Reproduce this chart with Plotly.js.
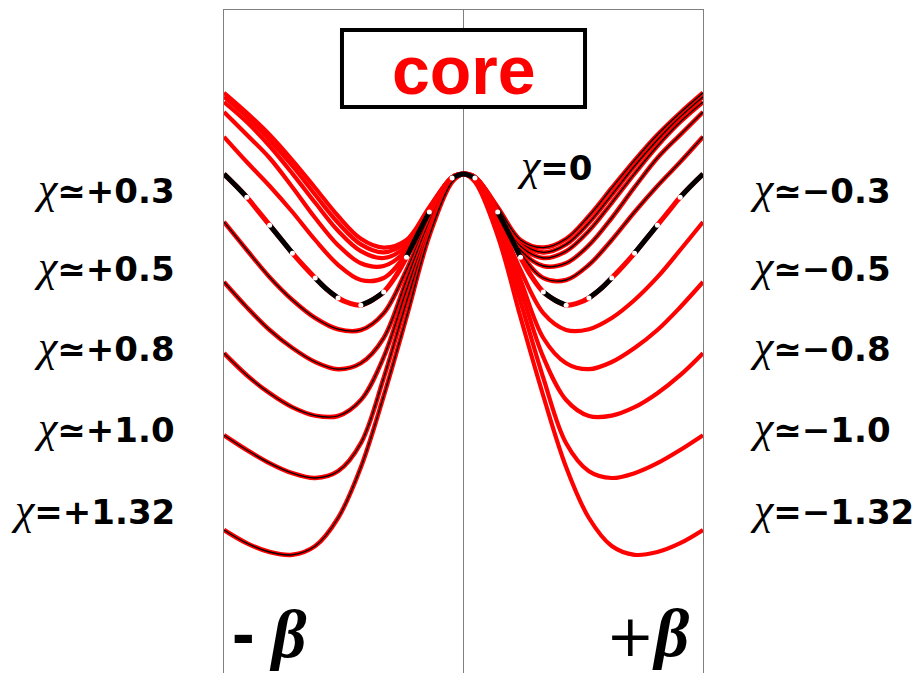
<!DOCTYPE html>
<html>
<head>
<meta charset="utf-8">
<script src="https://cdn.plot.ly/plotly-3.0.1.min.js"></script>
<style>
  html, body { margin: 0; padding: 0; background: #ffffff; }
  #chart { width: 919px; height: 673px; }
</style>
</head>
<body>
<div id="chart"></div>
<script>
// Quadrupole deformation grid used for the χ ≠ 0 potential curves
const beta = [-1.05, -0.95, -0.85, -0.75, -0.65, -0.55, -0.45, -0.35, -0.25, -0.15, -0.05, 0,
              0.05, 0.15, 0.25, 0.35, 0.45, 0.55, 0.65, 0.75, 0.85, 0.95, 1.05];

// Finer grid for the symmetric χ = 0 curve (its dashes span 0.1 in β)
const betaFine = [-1.05, -1.00, -0.95, -0.90, -0.85, -0.80, -0.75, -0.70, -0.65, -0.60, -0.55,
                  -0.50, -0.45, -0.40, -0.35, -0.30, -0.25, -0.20, -0.15, -0.10, -0.05, 0,
                  0.05, 0.10, 0.15, 0.20, 0.25, 0.30, 0.35, 0.40, 0.45, 0.50, 0.55, 0.60,
                  0.65, 0.70, 0.75, 0.80, 0.85, 0.90, 0.95, 1.00, 1.05];

// Potential energy (arbitrary units, barrier top = 0)
const eChi0 = [0, -0.28, -0.58, -0.93, -1.28, -1.63, -1.98, -2.30, -2.60, -2.88, -3.10,
               -3.23, -3.28, -3.15, -2.95, -2.58, -2.08, -1.50, -0.95, -0.45, -0.10, 0,
               -0.10, -0.45, -0.95, -1.50, -2.08, -2.58, -2.95, -3.15, -3.28, -3.23,
               -3.10, -2.88, -2.60, -2.30, -1.98, -1.63, -1.28, -0.93, -0.58, -0.28, 0];

const ePlus03  = [-1.20, -1.90, -2.58, -3.15, -3.60, -3.88, -3.90, -3.48, -2.40, -1.10, -0.13, 0,
                  -0.10, -0.93, -1.98, -2.60, -2.65, -2.27, -1.65, -0.95, -0.30, 0.30, 0.93];
const ePlus05  = [-2.70, -3.33, -3.90, -4.35, -4.70, -4.88, -4.73, -4.10, -2.65, -1.20, -0.13, 0,
                  -0.08, -0.90, -1.90, -2.30, -2.23, -1.78, -1.10, -0.33, 0.40, 0.98, 1.55];
const ePlus08  = [-4.48, -5.03, -5.48, -5.83, -6.04, -6.05, -5.65, -4.58, -2.90, -1.35, -0.15, 0,
                  -0.08, -0.88, -1.80, -2.10, -1.93, -1.42, -0.72, 0.01, 0.70, 1.30, 1.80];
const ePlus10  = [-6.53, -6.90, -7.23, -7.48, -7.60, -7.43, -6.73, -5.10, -3.20, -1.45, -0.18, 0,
                  -0.08, -0.85, -1.70, -1.96, -1.76, -1.22, -0.52, 0.20, 0.85, 1.43, 1.93];
const ePlus132 = [-8.90, -9.23, -9.45, -9.52, -9.30, -8.60, -7.33, -5.55, -3.58, -1.55, -0.20, 0,
                  -0.08, -0.83, -1.65, -1.84, -1.62, -1.05, -0.35, 0.34, 0.98, 1.53, 2.03];

const plusCurves = [ePlus03, ePlus05, ePlus08, ePlus10, ePlus132];

const leftLabels  = ['χ≃+0.3', 'χ≃+0.5', 'χ≃+0.8', 'χ≃+1.0', 'χ=+1.32'];
const rightLabels = ['χ≃−0.3', 'χ≃−0.5', 'χ≃−0.8', 'χ≃−1.0', 'χ=−1.32'];
const labelLevels = [0.731, 0.613, 0.492, 0.371, 0.246];

const RED = '#ff0000';
const traces = [];

// χ < 0 curves are the mirror images (β → −β) of the χ > 0 ones
plusCurves.forEach(function (e) {
  traces.push({
    x: beta, y: e.slice().reverse(), type: 'scatter', mode: 'lines',
    line: { color: RED, width: 4.2, shape: 'spline', smoothing: 1 },
    hoverinfo: 'skip', showlegend: false
  });
});

// χ > 0 curves: red with a thin dark core
plusCurves.forEach(function (e) {
  traces.push({
    x: beta, y: e, type: 'scatter', mode: 'lines',
    line: { color: RED, width: 4.5, shape: 'spline', smoothing: 1 },
    hoverinfo: 'skip', showlegend: false
  });
  traces.push({
    x: beta, y: e, type: 'scatter', mode: 'lines',
    line: { color: '#000000', width: 1.3, shape: 'spline', smoothing: 1 },
    hoverinfo: 'skip', showlegend: false
  });
});

// χ = 0: red base line, alternating black dashes, white dots between them
traces.push({
  x: betaFine, y: eChi0, type: 'scatter', mode: 'lines',
  line: { color: RED, width: 5, shape: 'spline', smoothing: 1 },
  hoverinfo: 'skip', showlegend: false
});
const dashX = [], dashY = [];
betaFine.forEach(function (b, i) {
  const k = i % 4;
  if (k <= 2) { dashX.push(b); dashY.push(eChi0[i]); }
  if (k === 2) { dashX.push(null); dashY.push(null); }
});
traces.push({
  x: dashX, y: dashY, type: 'scatter', mode: 'lines', connectgaps: false,
  line: { color: '#000000', width: 5, shape: 'spline', smoothing: 1 },
  hoverinfo: 'skip', showlegend: false
});
const dotX = [], dotY = [];
betaFine.forEach(function (b, i) {
  if (i % 2 === 0 && i > 0 && i < betaFine.length - 1) { dotX.push(b); dotY.push(eChi0[i]); }
});
traces.push({
  x: dotX, y: dotY, type: 'scatter', mode: 'markers',
  marker: { color: '#ffffff', size: 5, line: { width: 0 } },
  hoverinfo: 'skip', showlegend: false
});

const labelFont = { family: 'DejaVu Sans', size: 34, color: '#000000', weight: 'bold' };
function chiText(s) {
  return '<span style="font-family:\'Liberation Serif\';font-style:italic;font-weight:normal;font-size:44px">χ</span>' + s.slice(1);
}

const annotations = [];
leftLabels.forEach(function (t, i) {
  annotations.push({ xref: 'paper', yref: 'paper', x: -0.098, y: labelLevels[i],
    xanchor: 'right', yanchor: 'middle', text: chiText(t), showarrow: false, font: labelFont });
});
rightLabels.forEach(function (t, i) {
  annotations.push({ xref: 'paper', yref: 'paper', x: 1.094, y: labelLevels[i],
    xanchor: 'left', yanchor: 'middle', text: chiText(t), showarrow: false, font: labelFont });
});
annotations.push({ xref: 'paper', yref: 'paper', x: 0.69, y: 0.766, xanchor: 'center',
  yanchor: 'middle', text: chiText('χ=0'), showarrow: false, font: labelFont });
annotations.push({ xref: 'paper', yref: 'paper', x: 0.5, y: 0.910, xanchor: 'center',
  yanchor: 'middle', text: 'core', showarrow: false,
  font: { family: 'Liberation Sans', size: 68, color: RED, weight: 'bold' } });
annotations.push({ xref: 'paper', yref: 'paper', x: 0.0125, y: 0.06, xanchor: 'left',
  yanchor: 'middle', showarrow: false,
  text: '<span style="font-family:\'Liberation Sans\';font-weight:bold">-</span> <b><i>β</i></b>',
  font: { family: 'Liberation Serif', size: 68, color: '#000000' } });
annotations.push({ xref: 'paper', yref: 'paper', x: 0.977, y: 0.06, xanchor: 'right',
  yanchor: 'middle', showarrow: false,
  text: '<span style="font-family:\'DejaVu Serif\';font-size:58px">+</span><b><i>β</i></b>',
  font: { family: 'Liberation Serif', size: 68, color: '#000000' } });

const layout = {
  width: 919, height: 673,
  margin: { l: 224, r: 216, t: 10, b: 0, pad: 0 },
  paper_bgcolor: '#ffffff', plot_bgcolor: '#ffffff',
  showlegend: false,
  xaxis: { range: [-1.05, 1.05], showgrid: false, zeroline: true, zerolinecolor: '#7f7f7f',
           zerolinewidth: 1, showticklabels: false, ticks: '', showline: true, side: 'top',
           linecolor: '#7f7f7f', linewidth: 1, mirror: false, fixedrange: true },
  yaxis: { range: [-12.475, 4.1], showgrid: false, zeroline: false, showticklabels: false,
           ticks: '', showline: true, mirror: true, linecolor: '#7f7f7f', linewidth: 1,
           fixedrange: true },
  shapes: [{ type: 'rect', xref: 'paper', yref: 'paper', x0: 0.2463, x1: 0.7537,
             y0: 0.8537, y1: 0.9698, line: { color: '#000000', width: 4 },
             fillcolor: '#ffffff', layer: 'above' }],
  annotations: annotations
};

Plotly.newPlot('chart', traces, layout, { staticPlot: true, displayModeBar: false });
</script>
</body>
</html>
